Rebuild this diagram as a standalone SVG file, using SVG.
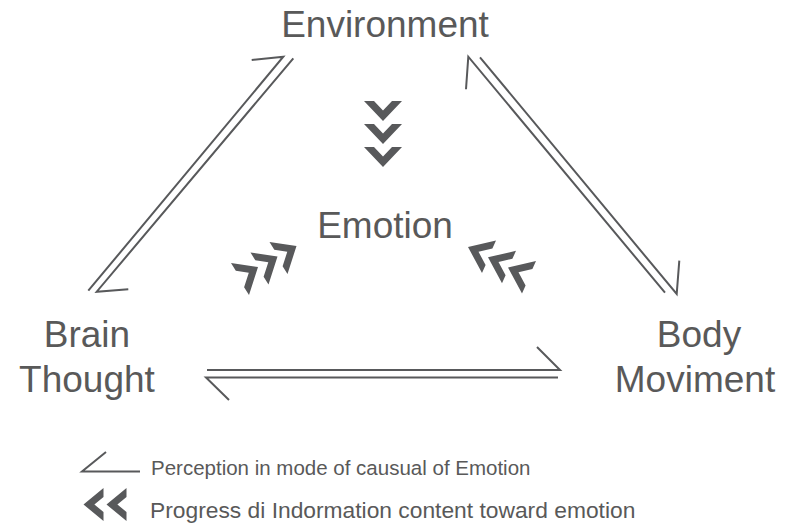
<svg xmlns="http://www.w3.org/2000/svg" width="787" height="532" viewBox="0 0 787 532">
  <style>
    .lbl { font-family: "Liberation Sans", Arial, sans-serif; fill: #595959; }
    .big { font-size: 37px; text-anchor: middle; }
    .leg1 { font-size: 20.5px; }
    .leg2 { font-size: 22.8px; }
    .ln { fill: none; stroke: #58595B; stroke-width: 2; stroke-linecap: butt; }
    .chev { fill: #58595B; }
  </style>
  <defs>
    <path id="chevDown" d="M364,101 L374,101 L383,110.5 L392,101 L402,101 L383,121 Z"/>
    <path id="chevLeftUp" d="M231,263 L258,267 L249,295 L244.1,287.2 L248.8,272.7 L235.8,270.8 Z"/>
    <path id="chevRightUp" d="M496,240.5 L468,247 L482,273 L485.6,265 L478.5,251.75 L492.4,248.5 Z"/>
    <path id="chevLeft" d="M83.5,504.5 L103.5,488 L103.5,497 L94.4,504.5 L103.5,512 L103.5,521 Z"/>
  </defs>

  <g id="node-environment">
    <text class="lbl big" x="385" y="37">Environment</text>
  </g>
  <g id="node-emotion">
    <text class="lbl big" x="385" y="238">Emotion</text>
  </g>
  <g id="node-brain">
    <text class="lbl big" x="87" y="347">Brain</text>
    <text class="lbl big" x="87" y="392">Thought</text>
  </g>
  <g id="node-body">
    <text class="lbl big" x="699" y="347">Body</text>
    <text class="lbl big" x="695" y="392">Moviment</text>
  </g>

  <g id="connectors">
    <!-- Brain <-> Environment -->
    <polyline class="ln" points="251.7,60 283.3,56.7 88.3,290.7"/>
    <polyline class="ln" points="293.3,58.3 96.7,291.7 128.3,289.3"/>
    <!-- Environment <-> Body -->
    <polyline class="ln" points="466,89.3 468.3,56.7 665,292.7"/>
    <polyline class="ln" points="480,57.3 676.7,294 679.3,260.7"/>
    <!-- Brain <-> Body -->
    <polyline class="ln" points="207,370 560,370 537,347"/>
    <polyline class="ln" points="229,400 206,377.5 558,377.5"/>
  </g>

  <g id="flows">
    <use href="#chevDown" class="chev"/>
    <use href="#chevDown" class="chev" transform="translate(0,23)"/>
    <use href="#chevDown" class="chev" transform="translate(0,46)"/>
    <use href="#chevLeftUp" class="chev"/>
    <use href="#chevLeftUp" class="chev" transform="translate(19.5,-10.5)"/>
    <use href="#chevLeftUp" class="chev" transform="translate(38.5,-21)"/>
    <use href="#chevRightUp" class="chev"/>
    <use href="#chevRightUp" class="chev" transform="translate(20,10.3)"/>
    <use href="#chevRightUp" class="chev" transform="translate(40,20.6)"/>
  </g>

  <g id="legend">
    <polyline class="ln" points="106,452 82,471.5 140,471.5"/>
    <text class="lbl leg1" x="151" y="475">Perception in mode of causual of Emotion</text>
    <use href="#chevLeft" class="chev"/>
    <use href="#chevLeft" class="chev" transform="translate(23,0)"/>
    <text class="lbl leg2" x="150" y="518">Progress di Indormation content toward emotion</text>
  </g>
</svg>
